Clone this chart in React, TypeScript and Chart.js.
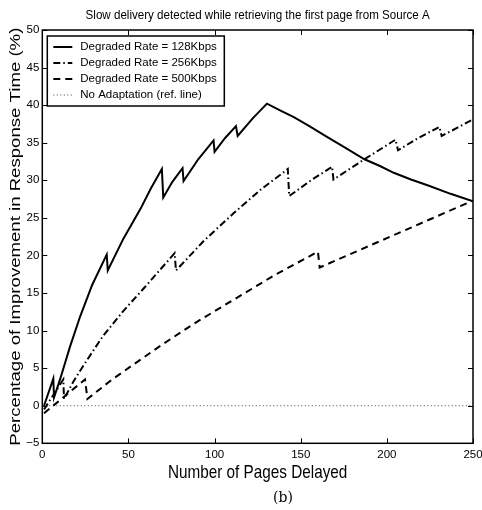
import React, { useEffect, useRef } from "react";
import { Chart, registerables } from "chart.js";

Chart.register(...registerables);

const TITLE = "Slow delivery detected while retrieving the first page from Source A";
const X_TITLE = "Number of Pages Delayed";
const Y_TITLE = "Percentage of Improvement in Response Time (%)";
const CAPTION = "(b)";

const X_MIN = 0;
const X_MAX = 250;
const X_STEP = 50;
const Y_MIN = -5;
const Y_MAX = 50;
const Y_STEP = 5;

const LABELS = [
  "Degraded Rate = 128Kbps",
  "Degraded Rate = 256Kbps",
  "Degraded Rate = 500Kbps",
  "No Adaptation (ref. line)",
];

const x128 = [1, 6.4, 6.8, 10.3, 16, 22, 29, 37.4, 38, 47, 57, 63, 69.4, 70.2, 75.5, 81.4, 82, 90.5, 99.4, 100, 106, 112.4, 113.4, 122, 130.4, 138, 146, 155, 165, 176, 187, 196, 204, 214, 224, 237, 250];
const y128 = [0, 3.6, 1.1, 3.5, 7.8, 11.9, 16.1, 20.1, 18.0, 22.2, 26.2, 28.9, 31.5, 27.7, 29.8, 31.6, 29.9, 32.8, 35.3, 33.8, 35.6, 37.2, 35.9, 38.2, 40.2, 39.3, 38.4, 37.2, 35.8, 34.3, 32.8, 31.9, 31.0, 30.1, 29.3, 28.2, 27.2];

const x256 = [1, 12.2, 12.6, 18, 24, 35, 47, 60, 76.8, 77.6, 94, 111, 127, 142.5, 143.3, 156, 168.2, 169, 187, 205, 206.5, 218, 230.5, 231.8, 241, 250];
const y256 = [-0.5, 3.5, 0.9, 3.2, 5.4, 9.2, 12.6, 15.9, 20.3, 18.0, 22.0, 25.6, 28.8, 31.5, 27.9, 30.0, 31.8, 30.1, 32.8, 35.4, 34.0, 35.6, 37.1, 35.9, 37.0, 38.1];

const x500 = [1, 24.8, 26.2, 40, 53, 70, 90, 111, 135, 160, 161, 185, 205, 228, 250];
const y500 = [-1.0, 3.5, 0.9, 3.4, 5.5, 8.2, 11.2, 14.1, 17.4, 20.5, 18.4, 20.8, 22.8, 25.1, 27.3];

const xRef = [0, 250];
const yRef = [0, 0];

const FONT = "'Liberation Sans', Arial, Helvetica, sans-serif";

const toPoints = (xs: number[], ys: number[]) => xs.map((x, i) => ({ x, y: ys[i] }));
const fmt = (v: any) => String(v).replace("-", "\u2212");

function drawText(
  ctx: CanvasRenderingContext2D,
  text: string,
  x: number,
  y: number,
  rotation: number,
  size: number,
  sx: number,
  sy: number
) {
  ctx.save();
  ctx.translate(x, y);
  ctx.rotate(rotation);
  ctx.scale(sx, sy);
  ctx.font = `${size}px ${FONT}`;
  ctx.textAlign = "center";
  ctx.textBaseline = "middle";
  ctx.fillStyle = "#000";
  ctx.fillText(text, 0, 0);
  ctx.restore();
}

const framePlugin = {
  id: "frameAndTitles",
  afterDatasetsDraw(chart: any) {
    const { ctx, chartArea, scales } = chart;
    const { left, right, top, bottom } = chartArea;
    const xs = scales.x;
    const ys = scales.y;
    ctx.save();
    ctx.strokeStyle = "#000";
    ctx.lineWidth = 1;
    const TL = 5;
    ctx.beginPath();
    for (let v = X_MIN; v <= X_MAX; v += X_STEP) {
      const px = Math.round(xs.getPixelForValue(v)) + 0.5;
      ctx.moveTo(px, bottom);
      ctx.lineTo(px, bottom - TL);
      ctx.moveTo(px, top);
      ctx.lineTo(px, top + TL);
    }
    for (let v = Y_MIN; v <= Y_MAX; v += Y_STEP) {
      const py = Math.round(ys.getPixelForValue(v)) + 0.5;
      ctx.moveTo(left, py);
      ctx.lineTo(left + TL, py);
      ctx.moveTo(right, py);
      ctx.lineTo(right - TL, py);
    }
    ctx.stroke();
    ctx.lineWidth = 1.5;
    ctx.strokeRect(left, top, right - left, bottom - top);

    // legend box
    const bx = left + 5;
    const by = top + 6;
    const bw = 177;
    const rowH = 16;
    const bh = rowH * 4 + 6;
    ctx.fillStyle = "#fff";
    ctx.fillRect(bx, by, bw, bh);
    ctx.lineWidth = 1.5;
    ctx.strokeRect(bx, by, bw, bh);
    chart.data.datasets.forEach((ds: any, i: number) => {
      const cy = by + 11 + i * rowH;
      ctx.save();
      ctx.strokeStyle = ds.borderColor;
      ctx.lineWidth = ds.borderWidth;
      ctx.setLineDash(ds.borderDash || []);
      ctx.beginPath();
      ctx.moveTo(bx + 6, cy);
      ctx.lineTo(bx + 25, cy);
      ctx.stroke();
      ctx.restore();
      ctx.fillStyle = "#000";
      ctx.font = `11.5px ${FONT}`;
      ctx.textAlign = "left";
      ctx.textBaseline = "middle";
      ctx.fillText(ds.label, bx + 33, cy);
    });
    ctx.restore();

    const cx = (left + right) / 2;
    const cyMid = (top + bottom) / 2;
    drawText(ctx, TITLE, cx, 15, 0, 11.6, 1, 1.1);
    drawText(ctx, X_TITLE, cx, 473, 0, 15.3, 1, 1.2);
    drawText(ctx, Y_TITLE, 16, cyMid, -Math.PI / 2, 15.5, 1.2, 1);
  },
};

export default function App() {
  const ref = useRef<HTMLCanvasElement | null>(null);
  useEffect(() => {
    if (!ref.current) return;
    const chart = new Chart(ref.current, {
      type: "line",
      data: {
        datasets: [
          {
            label: LABELS[0],
            data: toPoints(x128, y128),
            borderColor: "#000",
            borderWidth: 2,
            pointRadius: 0,
            tension: 0,
          },
          {
            label: LABELS[1],
            data: toPoints(x256, y256),
            borderColor: "#000",
            borderWidth: 2,
            borderDash: [7, 3, 1.5, 3],
            pointRadius: 0,
            tension: 0,
          },
          {
            label: LABELS[2],
            data: toPoints(x500, y500),
            borderColor: "#000",
            borderWidth: 2,
            borderDash: [7, 5],
            pointRadius: 0,
            tension: 0,
          },
          {
            label: LABELS[3],
            data: toPoints(xRef, yRef),
            borderColor: "#444",
            borderWidth: 1,
            borderDash: [1, 2.5],
            pointRadius: 0,
            tension: 0,
          },
        ],
      },
      options: {
        responsive: false,
        animation: false,
        layout: { padding: { top: 30, right: 9, bottom: 30, left: 0 } },
        plugins: {
          legend: { display: false },
          title: { display: false },
          tooltip: { enabled: false },
        },
        scales: {
          x: {
            type: "linear",
            min: X_MIN,
            max: X_MAX,
            grid: { display: false, drawTicks: false },
            border: { display: false },
            ticks: {
              stepSize: X_STEP,
              color: "#000",
              font: { family: FONT, size: 11.5 },
              padding: 5,
              maxRotation: 0,
              callback: fmt,
            },
            afterFit: (s: any) => {
              s.height = 36.7;
              s.paddingLeft = 0;
              s.paddingRight = 0;
            },
          },
          y: {
            type: "linear",
            min: Y_MIN,
            max: Y_MAX,
            grid: { display: false, drawTicks: false },
            border: { display: false },
            ticks: {
              stepSize: Y_STEP,
              color: "#000",
              font: { family: FONT, size: 11.5 },
              padding: 3,
              callback: fmt,
            },
            afterFit: (s: any) => {
              s.width = 42.3;
              s.paddingTop = 0;
              s.paddingBottom = 0;
            },
          },
        },
      },
      plugins: [framePlugin],
    });
    return () => chart.destroy();
  }, []);

  return (
    <div style={{ position: "fixed", left: 0, top: 0, width: 482, height: 510, background: "#fff" }}>
      <canvas ref={ref} width={482} height={510} style={{ display: "block" }} />
      <div
        style={{
          position: "absolute",
          left: 283,
          top: 497,
          transform: "translate(-50%, -50%)",
          fontFamily: "'DejaVu Serif', 'Liberation Serif', serif",
          fontSize: 14,
          lineHeight: 1,
          color: "#000",
        }}
      >
        {CAPTION}
      </div>
    </div>
  );
}
